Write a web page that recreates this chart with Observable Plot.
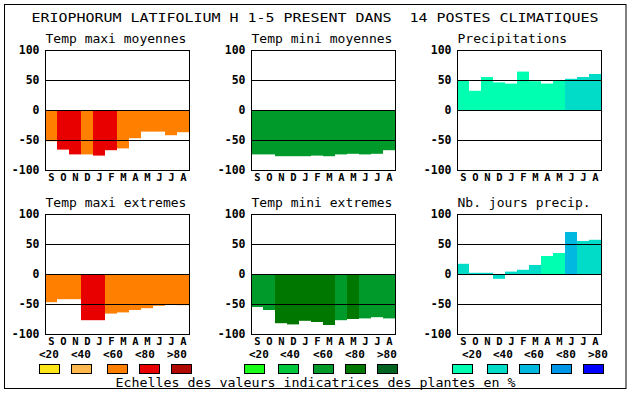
<!DOCTYPE html>
<html><head><meta charset="utf-8">
<script src="https://cdn.jsdelivr.net/npm/d3@7"></script>
<script src="https://cdn.jsdelivr.net/npm/@observablehq/plot@0.6"></script>
<style>
html,body{margin:0;padding:0;background:#fff;}
#root{position:relative;width:630px;height:394px;overflow:hidden;background:#fff;}
#root svg{position:absolute;}
</style></head><body><div id="root"></div>
<script>
const months = ["S","O","N","D","J","F","M","A","M","J","J","A"];
const classLabels = ["<20","<40","<60","<80",">80"];
const yTicks = [100, 50, 0, -50, -100];
const gridValues = [50, 0, -50];
const mainTitle = "ERIOPHORUM LATIFOLIUM H 1-5 PRESENT DANS  14 POSTES CLIMATIQUES";
const caption = "Echelles des valeurs indicatrices des plantes en %";

const tempMaxMoy    = [-52,-66,-74,-74,-76,-67,-64,-47,-36,-36,-42,-37];
const tempMaxMoyCls = ["<60","<80","<80","<60","<80","<80","<60","<60","<60","<60","<60","<60"];
const tempMinMoy    = [-74,-74,-77,-77,-77,-76,-77,-74,-73,-74,-73,-67];
const tempMinMoyCls = ["<60","<60","<60","<60","<60","<60","<60","<60","<60","<60","<60","<60"];
const precip        = [49,32,55,46,44,64,48,44,49,52,55,60];
const precipCls     = ["<20","<20","<20","<20","<20","<20","<20","<20","<20","<40","<40","<40"];
const tempMaxExt    = [-47,-42,-42,-77,-77,-66,-64,-60,-57,-53,-51,-52];
const tempMaxExtCls = ["<60","<60","<60","<80","<80","<60","<60","<60","<60","<60","<60","<60"];
const tempMinExt    = [-55,-60,-82,-84,-78,-80,-85,-77,-75,-74,-72,-74];
const tempMinExtCls = ["<60","<60","<80","<80","<80","<80","<80","<60","<80","<60","<60","<60"];
const joursPrecip    = [17,2,2,-8,4,7,15,30,35,70,55,57];
const joursPrecipCls = ["<40","<40","<40","<40","<40","<40","<40","<20","<20","<60","<40","<40"];

const warmPalette  = ["#FFE619","#FFB84D","#FF8000","#E80000","#B00A00"];
const greenPalette = ["#1AFF1A","#00C83C","#009A2A","#007800","#006420"];
const bluePalette  = ["#00FFB0","#00DCC8","#00B8E0","#0096E8","#0000FF"];

const FONT = "'DejaVu Sans Mono', monospace";
const root = document.getElementById("root");

function panel(values, cls, palette, title, frameLeft, frameTop) {
  const data = values.map((v, i) => ({i, v, c: cls[i]}));
  const mL = 45, mR = 8, mT = 24, mB = 18;
  const chart = Plot.plot({
    width: mL + 144 + mR, height: mT + 120 + mB,
    marginLeft: mL, marginRight: mR, marginTop: mT, marginBottom: mB,
    style: {fontFamily: FONT, fontSize: "11.5px", fontWeight: "bold", background: "transparent", overflow: "visible", color: "black"},
    x: {type: "band", domain: d3.range(12), padding: 0, label: null},
    y: {domain: [-100, 100], label: null},
    color: {domain: classLabels, range: palette},
    marks: [
      Plot.barY(data, {x: "i", y1: 0, y2: "v", fill: "c", inset: 0}),
      Plot.ruleY(gridValues, {stroke: "black", strokeWidth: 1}),
      Plot.frame({stroke: "black", strokeWidth: 1}),
      Plot.axisY(yTicks, {tickSize: 0, tickPadding: 6, tickFormat: d => String(d), label: null, fontSize: 11.5, fontWeight: "bold"}),
      Plot.axisX({tickSize: 0, tickPadding: 3.5, tickFormat: i => months[i], label: null, fontSize: 10.5, fontWeight: "bold"}),
      Plot.text([title], {frameAnchor: "top-left", textAnchor: "start", lineAnchor: "bottom", dy: -8, fontSize: 13, fontWeight: "normal", fill: "black"})
    ]
  });
  chart.style.left = (frameLeft - mL) + "px";
  chart.style.top = (frameTop - mT) + "px";
  root.appendChild(chart);
}

panel(tempMaxMoy, tempMaxMoyCls, warmPalette, "Temp maxi moyennes", 45, 50);
panel(tempMinMoy, tempMinMoyCls, greenPalette, "Temp mini moyennes", 251, 50);
panel(precip, precipCls, bluePalette, "Precipitations", 457, 50);
panel(tempMaxExt, tempMaxExtCls, warmPalette, "Temp maxi extremes", 45, 214);
panel(tempMinExt, tempMinExtCls, greenPalette, "Temp mini extremes", 251, 214);
panel(joursPrecip, joursPrecipCls, bluePalette, "Nb. jours precip.", 457, 214);

// overlay: border, title, legend, caption
const svg = d3.select(root).append("svg")
  .attr("width", 630).attr("height", 394)
  .style("left", "0px").style("top", "0px")
  .style("font-family", FONT);

svg.append("rect").attr("x", 4.5).attr("y", 4.5).attr("width", 621.5).attr("height", 384)
  .attr("fill", "none").attr("stroke", "black").attr("stroke-width", 1);

svg.append("text").attr("x", 31.5).attr("y", 21.5)
  .attr("font-size", 11.5).attr("textLength", 567).attr("lengthAdjust", "spacingAndGlyphs")
  .attr("xml:space", "preserve").style("white-space", "pre")
  .text(mainTitle);

const legendGroups = [
  {palette: warmPalette,  labelX: [39, 71, 103, 135, 167], swatchX: [39, 71, 107, 139, 171]},
  {palette: greenPalette, labelX: [249, 280, 313, 345, 377], swatchX: [244, 278, 313, 345, 377]},
  {palette: bluePalette,  labelX: [462, 493, 524, 556, 588], swatchX: [452, 487, 519, 551, 583]}
];
for (const g of legendGroups) {
  classLabels.forEach((lab, k) => {
    svg.append("text").attr("x", g.labelX[k]).attr("y", 358.3)
      .attr("font-size", 11).attr("font-weight", "bold").text(lab);
    svg.append("rect").attr("x", g.swatchX[k] + 0.5).attr("y", 364.5)
      .attr("width", 20).attr("height", 9)
      .attr("fill", g.palette[k]).attr("stroke", "black").attr("stroke-width", 1);
  });
}

svg.append("text").attr("x", 115.5).attr("y", 386.5)
  .attr("font-size", 12.5).attr("textLength", 400).attr("lengthAdjust", "spacingAndGlyphs")
  .text(caption);
</script></body></html>
